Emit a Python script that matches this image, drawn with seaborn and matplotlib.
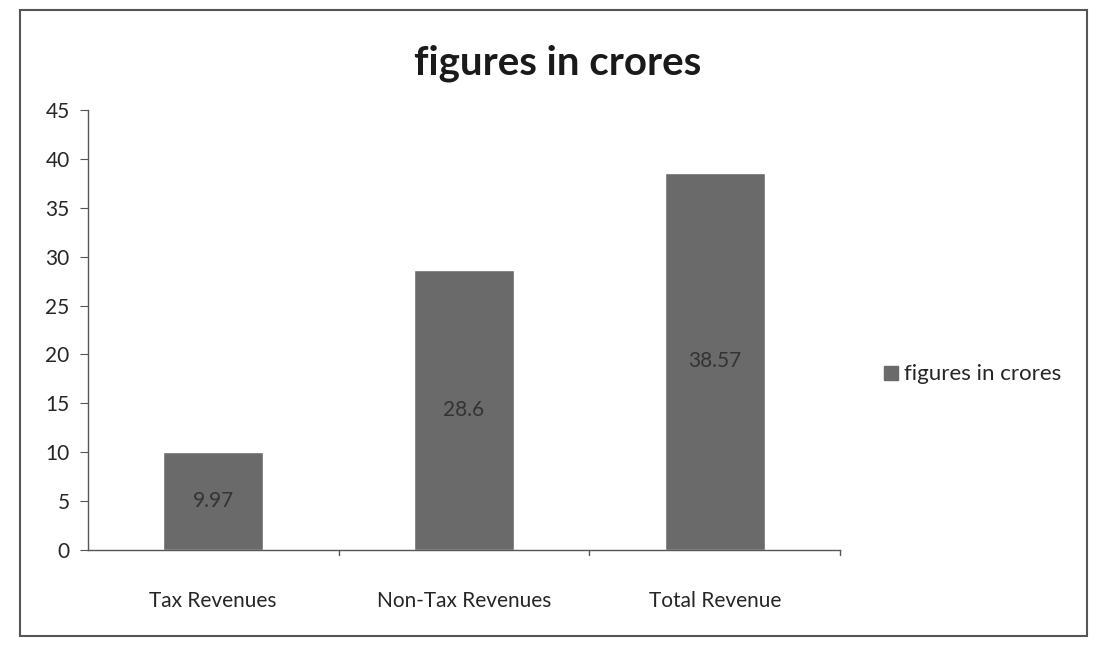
import matplotlib
matplotlib.use("Agg")
import matplotlib.pyplot as plt
import matplotlib.patches as mpatches
import seaborn as sns
import pandas as pd

# chart data
categories = ["Tax Revenues", "Non-Tax Revenues", "Total Revenue"]
values = [9.97, 28.6, 38.57]
series_name = "figures in crores"
y_ticks = [0, 5, 10, 15, 20, 25, 30, 35, 40, 45]

df = pd.DataFrame({"category": categories, "value": values})

sns.set_style("white")
plt.rcParams["font.family"] = ["Lato", "DejaVu Sans"]

fig = plt.figure(figsize=(10.97, 6.49), dpi=100)
ax = fig.add_axes([0.080, 0.153, 0.686, 0.677])

sns.barplot(data=df, x="category", y="value", color="#6a6a6a", width=0.4,
            saturation=1, ax=ax, label=series_name)

# value labels in the middle of each bar
for i, v in enumerate(values):
    ax.text(i, v / 2, f"{v:g}", ha="center", va="center", fontsize=15, color="#333333")

ax.set_ylim(0, 45)
ax.set_yticks(y_ticks)
ax.set_xlim(-0.5, 2.5)
ax.set_xlabel("")
ax.set_ylabel("")
ax.tick_params(axis="y", labelsize=15, length=6, direction="out", left=True, color="#555555", pad=7)
ax.tick_params(axis="x", labelsize=15, length=0, pad=30)
for tx in [0.5, 1.5, 2.5]:
    ax.plot([tx, tx], [0, -0.012], transform=ax.get_xaxis_transform(), color="#555555",
            lw=1, clip_on=False)
for s in ["top", "right"]:
    ax.spines[s].set_visible(False)
for s in ["left", "bottom"]:
    ax.spines[s].set_color("#555555")
    ax.spines[s].set_linewidth(1)

fig.suptitle(series_name, x=0.508, y=0.932, fontsize=29, fontweight="bold", color="#1a1a1a")

handle = mpatches.Patch(color="#6a6a6a", label=series_name)
fig.legend(handles=[handle], loc="center left", bbox_to_anchor=(0.788, 0.423), frameon=False,
           fontsize=16, handlelength=0.6, handleheight=0.6, handletextpad=0.3)
if ax.get_legend():
    ax.get_legend().remove()

# chart border
fig.add_artist(mpatches.Rectangle((0.018, 0.02), 0.973, 0.965, transform=fig.transFigure,
                                  fill=False, edgecolor="#555555", lw=1.5))

fig.savefig("out.png", dpi=100)
